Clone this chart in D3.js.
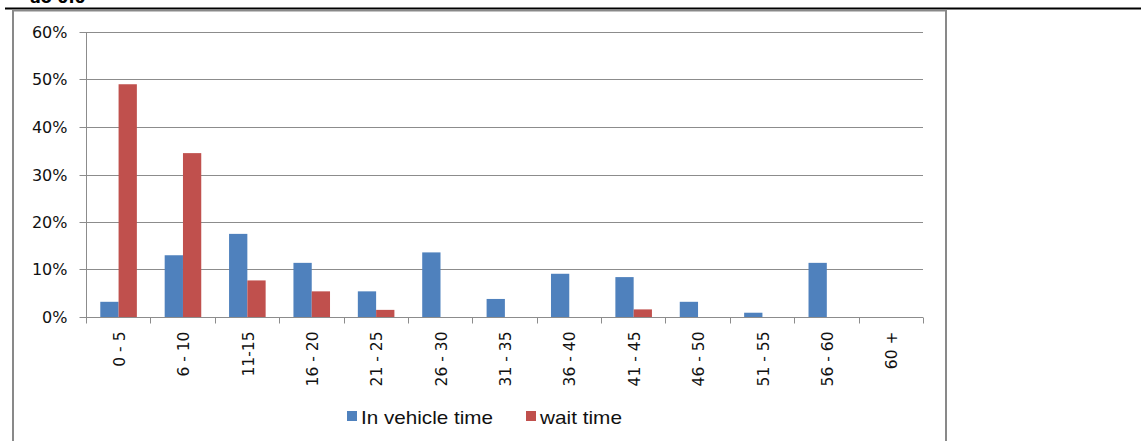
<!DOCTYPE html>
<html>
<head>
<meta charset="utf-8">
<script src="https://cdn.jsdelivr.net/npm/d3@7"></script>
<style>
  html, body { margin: 0; padding: 0; background: #fff; }
  svg { display: block; }
</style>
</head>
<body>
<svg id="chart" width="1141" height="441"></svg>
<script>
const categories = ["0 - 5", "6 - 10", "11-15", "16 - 20", "21 - 25", "26 - 30", "31 - 35", "36 - 40", "41 - 45", "46 - 50", "51 - 55", "56 - 60", "60 +"];
const seriesNames = ["In vehicle time", "wait time"];
const inVehicle = [0.032, 0.130, 0.175, 0.114, 0.054, 0.136, 0.038, 0.091, 0.084, 0.032, 0.009, 0.114, 0];
const waitTime  = [0.490, 0.345, 0.077, 0.054, 0.015, 0, 0, 0, 0.016, 0, 0, 0, 0];
const yTicks = [0, 0.1, 0.2, 0.3, 0.4, 0.5, 0.6];
const colors = ["#4F81BD", "#C0504D"];

(function () {
const svg = d3.select("#chart");

// clipped heading text from the surrounding document
svg.append("text").attr("x", 30).attr("y", 3)
  .attr("font-family", "DejaVu Sans, sans-serif").attr("font-weight", "bold")
  .attr("font-size", 16).attr("fill", "#000").text("ao 0.0");

// document rule
svg.append("line").attr("x1", 5).attr("x2", 1141).attr("y1", 8.5).attr("y2", 8.5)
  .attr("stroke", "#000").attr("stroke-width", 2);

// chart frame
svg.append("path").attr("d", "M13,441 V10.5 H946 V441")
  .attr("fill", "none").attr("stroke", "#898989").attr("stroke-width", 2);

const pL = 86, pR = 923, pT = 32, pB = 317;
const x0 = d3.scaleBand().domain(categories).range([pL, pR]).padding(0);
const bw = x0.bandwidth();
const x1 = d3.scaleBand().domain(seriesNames).range([bw * 0.222, bw * 0.79]).padding(0);
const y = d3.scaleLinear().domain([0, 0.6]).range([pB, pT]);

// gridlines
svg.append("g").selectAll("line").data(yTicks.filter(d => d > 0)).join("line")
  .attr("x1", pL).attr("x2", pR)
  .attr("y1", d => Math.round(y(d)) + 0.5).attr("y2", d => Math.round(y(d)) + 0.5)
  .attr("stroke", "#8c8c8c").attr("stroke-width", 1);

// Y axis
const yAxis = d3.axisLeft(y).tickValues(yTicks).tickFormat(d3.format(".0%")).tickSize(7).tickPadding(12);
const gy = svg.append("g").attr("transform", `translate(${pL + 0.5},0)`).call(yAxis);
gy.select(".domain").attr("stroke", "#8c8c8c").attr("d", `M0,${pT}V${pB + 6}`);
gy.selectAll(".tick line").attr("stroke", "#8c8c8c");
gy.selectAll(".tick").attr("transform", d => `translate(0,${Math.round(y(d)) + 0.5})`);
gy.selectAll("text").attr("font-family", "DejaVu Sans, sans-serif").attr("font-size", 16).attr("fill", "#111");

// bars
const data = categories.map((c, i) => ({ cat: c, vals: [inVehicle[i], waitTime[i]] }));
const groups = svg.append("g").selectAll("g").data(data).join("g")
  .attr("transform", d => `translate(${x0(d.cat)},0)`);
groups.selectAll("rect").data(d => d.vals.map((v, j) => ({ s: seriesNames[j], v, j })))
  .join("rect")
  .attr("x", d => x1(d.s))
  .attr("width", x1.bandwidth())
  .attr("y", d => y(d.v))
  .attr("height", d => pB - y(d.v))
  .attr("fill", d => colors[d.j]);

// X axis
const gx = svg.append("g").attr("transform", `translate(0,${pB + 0.5})`);
gx.append("line").attr("x1", pL).attr("x2", pR).attr("stroke", "#8c8c8c");
const boundaries = categories.map(c => x0(c)).concat([pR]);
gx.selectAll("line.tk").data(boundaries).join("line").attr("class", "tk")
  .attr("x1", d => Math.round(d) + 0.5).attr("x2", d => Math.round(d) + 0.5)
  .attr("y1", 0).attr("y2", 6).attr("stroke", "#8c8c8c");
gx.selectAll("text").data(categories).join("text")
  .attr("transform", d => `translate(${x0(d) + bw / 2 + 1},14) rotate(-90)`)
  .attr("text-anchor", "end").attr("dy", "0.36em")
  .attr("font-family", "DejaVu Sans, sans-serif").attr("font-size", 15.5).attr("fill", "#111")
  .text(d => d);

// legend
const legendItems = [
  { name: seriesNames[0], color: colors[0], x: 347, len: 132 },
  { name: seriesNames[1], color: colors[1], x: 526, len: 82 }
];
const lg = svg.append("g");
legendItems.forEach(it => {
  lg.append("rect").attr("x", it.x).attr("y", 411).attr("width", 10).attr("height", 10).attr("fill", it.color);
  lg.append("text").attr("x", it.x + 14).attr("y", 423.5)
    .attr("font-family", "Liberation Sans, Arial, sans-serif")
    .attr("textLength", it.len).attr("lengthAdjust", "spacingAndGlyphs")
    .attr("font-size", 19).attr("fill", "#111").text(it.name);
});
})();
</script>
</body>
</html>
